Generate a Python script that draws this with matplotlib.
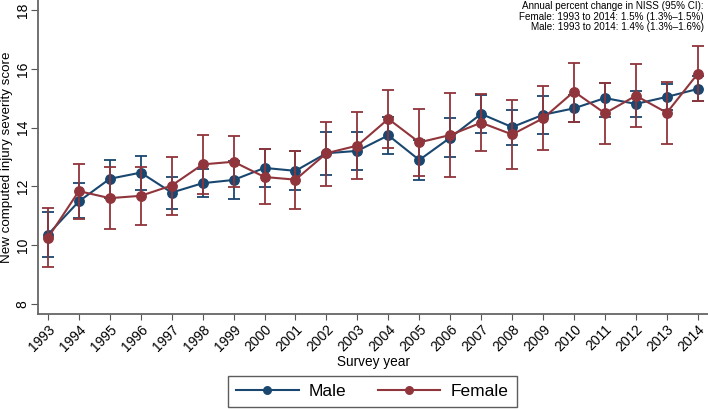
import matplotlib
matplotlib.use("Agg")
import matplotlib.pyplot as plt

years = list(range(1993, 2015))

male = [10.36, 11.49, 12.26, 12.47, 11.79, 12.11, 12.22, 12.63, 12.53, 13.13, 13.21,
        13.74, 12.90, 13.66, 14.47, 14.02, 14.44, 14.66, 15.01, 14.81, 15.05, 15.32]
male_lo = [9.61, 10.93, 11.62, 11.88, 11.23, 11.64, 11.57, 11.97, 11.88, 12.39, 12.56,
           13.12, 12.22, 12.99, 13.82, 13.40, 13.80, 14.19, 14.36, 14.36, 14.61, 14.90]
male_hi = [11.13, 12.11, 12.90, 13.04, 12.31, 12.58, 12.87, 13.27, 13.20, 13.87, 13.85,
           14.36, 13.58, 14.34, 15.12, 14.61, 15.07, 15.13, 15.53, 15.26, 15.49, 15.75]

female = [10.25, 11.84, 11.60, 11.68, 12.03, 12.75, 12.84, 12.32, 12.23, 13.13, 13.39,
          14.30, 13.50, 13.75, 14.17, 13.77, 14.32, 15.23, 14.49, 15.09, 14.51, 15.84]
female_lo = [9.27, 10.90, 10.55, 10.70, 11.01, 11.74, 11.97, 11.39, 11.24, 12.02, 12.25,
             13.32, 12.37, 12.33, 13.20, 12.59, 13.23, 14.19, 13.46, 14.02, 13.44, 14.90]
female_hi = [11.26, 12.75, 12.67, 12.67, 13.01, 13.76, 13.71, 13.27, 13.20, 14.19, 14.53,
             15.29, 14.63, 15.18, 15.14, 14.96, 15.42, 16.22, 15.53, 16.18, 15.55, 16.78]

note_lines = [
    "Annual percent change in NISS (95% CI):",
    "Female: 1993 to 2014: 1.5% (1.3%\u20131.5%)",
    "Male: 1993 to 2014: 1.4% (1.3%\u20131.6%)",
]

blue = "#1a476f"
red = "#90353b"

plt.rcParams['font.family'] = ['Liberation Sans', 'DejaVu Sans']

fig = plt.figure(figsize=(7.08, 4.09), dpi=100)
ax = fig.add_axes([0.0537, 0.232, 0.9463, 0.768])


def draw(vals, lo, hi, color, label):
    yerr = [[v - l for v, l in zip(vals, lo)], [h - v for v, h in zip(vals, hi)]]
    ax.errorbar(years, vals, yerr=yerr, fmt="none", ecolor=color,
                elinewidth=1.3, capsize=4, capthick=1.3)
    ax.plot(years, vals, color=color, lw=1.5, marker="o", ms=6.8, label=label)


draw(male, male_lo, male_hi, blue, "Male")
draw(female, female_lo, female_hi, red, "Female")

ax.set_xlim(1992.68, 2014.33)
ax.set_ylim(7.65, 18.35)
ax.set_yticks([8, 10, 12, 14, 16, 18])
ax.set_xticks(years)
ax.set_xticklabels([str(y) for y in years], rotation=45, ha="right",
                   rotation_mode="anchor", fontsize=10)
for lab in ax.get_yticklabels():
    lab.set_rotation(90)
    lab.set_va("center")
ax.tick_params(axis="y", labelsize=10, length=5, pad=1, color="#555555")
ax.tick_params(axis="x", length=4.5, pad=1.5, color="#555555")
for side in ["top", "right"]:
    ax.spines[side].set_visible(False)
for side in ["left", "bottom"]:
    ax.spines[side].set_color("#666666")
    ax.spines[side].set_linewidth(1.3)

ax.set_xlabel("Survey year", fontsize=9.8)
ax.xaxis.set_label_coords(0.5, -0.131)
ax.xaxis.label.set_va("top")
ax.set_ylabel("New computed injury severity score", fontsize=9.6)
ax.yaxis.set_label_coords(-0.047, 0.5)
ax.yaxis.label.set_va("center")

fig.text(0.994, 0.997, "\n".join(note_lines), ha="right", va="top",
         fontsize=7.1, linespacing=1.05)

fig.legend(loc="lower center", bbox_to_anchor=(0.526, 0.0), ncol=2,
           frameon=True, fancybox=False, edgecolor="#333333", fontsize=12.5,
           handlelength=3.6, handletextpad=0.6, columnspacing=1.8,
           borderpad=0.45, borderaxespad=0.1, markerscale=0.8)

fig.savefig("out.png", dpi=100)
